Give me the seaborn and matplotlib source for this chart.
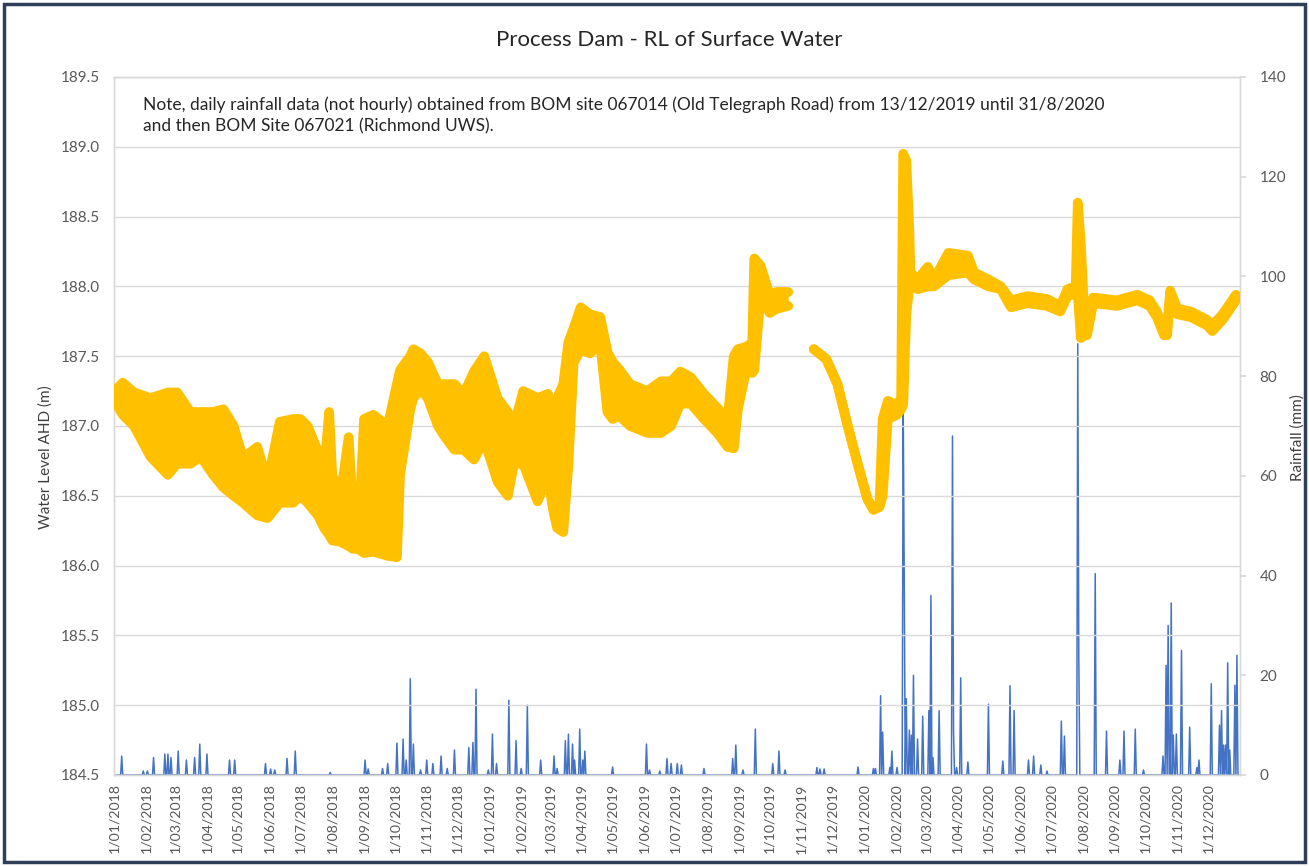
import numpy as np
import pandas as pd
import matplotlib
matplotlib.use("Agg")
import matplotlib.pyplot as plt
from matplotlib.patches import Rectangle
from matplotlib.ticker import FormatStrFormatter
import seaborn as sns

# ---------------- data ----------------
# Water level envelope (low / high of the daily oscillation), m AHD
level_dates = [
    "2018-01-01", "2018-01-09", "2018-01-20", "2018-02-05", "2018-02-22", "2018-03-03",
    "2018-03-16", "2018-03-26", "2018-04-07", "2018-04-17", "2018-04-27", "2018-05-06",
    "2018-05-20", "2018-05-30", "2018-06-11", "2018-06-24", "2018-07-01", "2018-07-08",
    "2018-07-18", "2018-07-24", "2018-07-29", "2018-08-01", "2018-08-09", "2018-08-17",
    "2018-08-21", "2018-08-26", "2018-09-01", "2018-09-10", "2018-09-24", "2018-10-03",
    "2018-10-06", "2018-10-16", "2018-10-19", "2018-10-26", "2018-11-02", "2018-11-12",
    "2018-11-18", "2018-11-28", "2018-12-07", "2018-12-17", "2018-12-27", "2019-01-09",
    "2019-01-19", "2019-01-25", "2019-02-03", "2019-02-17", "2019-02-27", "2019-03-04",
    "2019-03-08", "2019-03-14", "2019-03-19", "2019-03-24", "2019-03-31", "2019-04-09",
    "2019-04-19", "2019-04-26", "2019-05-01", "2019-05-08", "2019-05-18", "2019-06-04",
    "2019-06-17", "2019-06-27", "2019-07-06", "2019-07-16", "2019-07-29", "2019-08-11",
    "2019-08-21", "2019-08-27", "2019-08-31", "2019-09-09", "2019-09-14", "2019-09-16",
    "2019-09-22", "2019-10-01", "2019-10-08", "2019-10-19",
    "2019-11-13", "2019-11-25", "2019-12-06", "2019-12-16", "2019-12-26", "2020-01-04",
    "2020-01-10", "2020-01-16", "2020-01-19", "2020-01-24", "2020-02-02", "2020-02-06",
    "2020-02-08", "2020-02-11", "2020-02-14", "2020-02-15", "2020-02-22", "2020-03-03",
    "2020-03-09", "2020-03-23", "2020-04-11", "2020-04-17", "2020-05-01", "2020-05-13",
    "2020-05-23", "2020-06-08", "2020-06-27", "2020-07-10", "2020-07-17", "2020-07-25",
    "2020-07-27", "2020-07-30", "2020-08-03", "2020-08-05", "2020-08-11", "2020-09-03",
    "2020-09-23", "2020-10-05", "2020-10-12", "2020-10-19", "2020-10-22", "2020-10-25",
    "2020-11-01", "2020-11-14", "2020-11-30", "2020-12-05", "2020-12-15", "2020-12-28",
]
level_low = [
    187.18, 187.08, 187.00, 186.78, 186.65, 186.73,
    186.73, 186.78, 186.65, 186.56, 186.50, 186.45,
    186.36, 186.34, 186.45, 186.45, 186.50, 186.45,
    186.36, 186.27, 186.22, 186.18, 186.17, 186.14,
    186.12, 186.12, 186.09, 186.10, 186.07, 186.06,
    186.65, 187.12, 187.20, 187.26, 187.20, 187.00,
    186.93, 186.83, 186.83, 186.76, 186.90, 186.60,
    186.50, 186.73, 186.73, 186.46, 186.64, 186.40,
    186.27, 186.24, 186.73, 187.45, 187.55, 187.52,
    187.59, 187.10, 187.05, 187.07, 187.00, 186.95,
    186.95, 187.00, 187.16, 187.16, 187.05, 186.95,
    186.85, 186.84, 187.12, 187.43, 187.38, 187.40,
    187.93, 187.81, 187.84, 187.86,
    187.55, 187.48, 187.30, 187.00, 186.72, 186.48,
    186.40, 186.42, 186.50, 187.05, 187.08, 187.12,
    187.15, 187.80, 188.00, 188.02, 187.98, 188.00,
    188.00, 188.08, 188.10, 188.05, 188.00, 187.98,
    187.85, 187.88, 187.86, 187.82, 187.93, 187.95,
    187.95, 187.63, 187.65, 187.65, 187.88, 187.86,
    187.90, 187.86, 187.78, 187.65, 187.65, 187.93,
    187.80, 187.78, 187.72, 187.68, 187.76, 187.90,
]
level_high = [
    187.25, 187.31, 187.24, 187.20, 187.24, 187.24,
    187.10, 187.10, 187.10, 187.12, 187.00, 186.77,
    186.85, 186.60, 187.03, 187.05, 187.05, 187.00,
    186.82, 186.67, 187.10, 186.65, 186.49, 186.92,
    186.40, 186.15, 187.05, 187.08, 187.00, 187.30,
    187.40, 187.50, 187.55, 187.52, 187.46, 187.30,
    187.30, 187.30, 187.23, 187.39, 187.50, 187.20,
    187.10, 187.00, 187.25, 187.20, 187.23, 187.08,
    187.20, 187.30, 187.60, 187.70, 187.85, 187.80,
    187.78, 187.53, 187.46, 187.40, 187.30, 187.25,
    187.32, 187.32, 187.39, 187.35, 187.23, 187.13,
    187.05, 187.50, 187.55, 187.57, 187.60, 188.20,
    188.15, 187.94, 187.96, 187.96,
    187.55, 187.48, 187.30, 187.00, 186.72, 186.48,
    186.40, 186.45, 187.05, 187.18, 187.15, 187.20,
    188.95, 188.90, 188.40, 188.10, 188.05, 188.14,
    188.05, 188.24, 188.22, 188.10, 188.05, 188.00,
    187.90, 187.93, 187.91, 187.86, 187.98, 188.00,
    188.60, 188.30, 187.70, 187.68, 187.92, 187.90,
    187.94, 187.90, 187.82, 187.68, 187.70, 187.97,
    187.84, 187.82, 187.76, 187.72, 187.80, 187.94,
]
# logger record before / after the data gap of Oct-Nov 2019
level_segment = [0] * 76 + [1] * 48

# Daily rainfall (mm); days not listed had no rain
rain_dates = [
    "2018-01-08", "2018-01-29", "2018-02-02", "2018-02-08", "2018-02-19", "2018-02-22",
    "2018-02-25", "2018-03-04", "2018-03-12", "2018-03-20", "2018-03-25", "2018-04-01",
    "2018-04-23", "2018-04-28", "2018-05-28", "2018-06-02", "2018-06-06", "2018-06-18",
    "2018-06-26", "2018-07-30", "2018-09-02", "2018-09-05", "2018-09-19", "2018-09-24",
    "2018-10-03", "2018-10-09", "2018-10-12", "2018-10-16", "2018-10-19", "2018-10-26",
    "2018-11-01", "2018-11-07", "2018-11-15", "2018-11-21", "2018-11-28", "2018-12-12",
    "2018-12-16", "2018-12-19", "2018-12-31", "2019-01-04", "2019-01-08", "2019-01-20",
    "2019-01-27", "2019-02-01", "2019-02-07", "2019-02-20", "2019-03-05", "2019-03-08",
    "2019-03-16", "2019-03-19", "2019-03-23", "2019-03-25", "2019-03-30", "2019-04-02",
    "2019-04-04", "2019-05-01", "2019-06-03", "2019-06-06", "2019-06-16", "2019-06-23",
    "2019-06-27", "2019-07-03", "2019-07-07", "2019-07-29", "2019-08-26", "2019-08-29",
    "2019-09-05", "2019-09-17", "2019-10-04", "2019-10-10", "2019-10-16", "2019-11-16",
    "2019-11-19", "2019-11-23", "2019-12-26", "2020-01-10", "2020-01-12", "2020-01-17",
    "2020-01-19", "2020-01-26", "2020-01-28", "2020-02-02", "2020-02-08", "2020-02-09",
    "2020-02-11", "2020-02-14", "2020-02-16", "2020-02-18", "2020-02-22", "2020-02-27",
    "2020-03-04", "2020-03-06", "2020-03-08", "2020-03-14", "2020-03-27", "2020-03-28",
    "2020-03-31", "2020-04-04", "2020-04-11", "2020-05-01", "2020-05-15", "2020-05-22",
    "2020-05-26", "2020-06-09", "2020-06-14", "2020-06-21", "2020-06-27", "2020-07-11",
    "2020-07-14", "2020-07-27", "2020-07-28", "2020-08-13", "2020-08-24", "2020-09-06",
    "2020-09-10", "2020-09-21", "2020-09-29", "2020-10-18", "2020-10-21", "2020-10-23",
    "2020-10-26", "2020-10-28", "2020-10-31", "2020-11-05", "2020-11-13", "2020-11-20",
    "2020-11-22", "2020-12-04", "2020-12-12", "2020-12-14", "2020-12-16", "2020-12-18",
    "2020-12-20", "2020-12-22", "2020-12-27", "2020-12-29",
]
rain_mm = [
    3.8, 0.8, 0.8, 3.5, 4.2, 4.2,
    3.5, 4.8, 3.0, 3.5, 6.2, 4.2,
    3.0, 3.0, 2.3, 1.2, 1.0, 3.3,
    4.8, 0.5, 3.0, 1.2, 1.3, 2.3,
    6.4, 7.2, 3.0, 19.3, 6.2, 1.0,
    3.0, 2.3, 3.8, 1.3, 5.0, 5.5,
    6.5, 17.2, 1.0, 8.2, 2.3, 15.0,
    6.9, 1.3, 14.0, 3.0, 3.8, 1.3,
    6.9, 8.2, 6.2, 3.0, 9.2, 3.0,
    4.8, 1.6, 6.2, 1.0, 0.8, 3.3,
    2.3, 2.3, 2.0, 1.3, 3.3, 6.0,
    1.0, 9.2, 2.3, 4.8, 1.0, 1.5,
    1.2, 1.2, 1.6, 1.3, 1.3, 15.9,
    8.6, 1.5, 4.8, 1.5, 74.0, 40.0,
    15.3, 9.0, 8.0, 20.0, 7.2, 11.8,
    12.9, 36.0, 3.5, 12.9, 68.0, 9.0,
    1.5, 19.5, 2.6, 14.2, 2.8, 17.9,
    12.9, 3.0, 3.8, 2.0, 0.8, 10.8,
    7.8, 86.5, 23.6, 40.4, 8.8, 3.0,
    8.8, 9.2, 1.0, 3.8, 22.0, 30.0,
    34.5, 8.0, 8.2, 25.0, 9.6, 1.5,
    3.0, 18.3, 10.0, 12.9, 6.0, 6.0,
    22.5, 5.0, 18.0, 24.0,
]

tick_dates = pd.date_range("2018-01-01", "2020-12-01", freq="MS")
tick_labels = [f"1/{d.month:02d}/{d.year}" for d in tick_dates]

title = "Process Dam - RL of Surface Water"
note = ("Note, daily rainfall data (not hourly) obtained from BOM site 067014 (Old Telegraph Road) "
        "from 13/12/2019 until 31/8/2020\nand then BOM Site 067021 (Richmond UWS).")

# ---------------- styling ----------------
sns.set_theme(style="white")
plt.rcParams["font.family"] = ["Lato", "DejaVu Sans"]

ORANGE = "#FFC000"
BLUE = "#4472C4"
GRID = "#D9D9D9"
TXT = "#595959"

fig = plt.figure(figsize=(13.09, 8.66), dpi=100)
ax = fig.add_axes([0.0871, 0.1051, 0.8602, 0.806])
ax2 = ax.twinx()

# rainfall on secondary axis (behind the level line)
rain = pd.Series(rain_mm, index=pd.to_datetime(rain_dates)).groupby(level=0).sum()
days = pd.date_range("2018-01-01", "2020-12-31", freq="D")
rain_df = pd.DataFrame({"date": days, "mm": rain.reindex(days, fill_value=0.0).values})
sns.lineplot(data=rain_df, x="date", y="mm", ax=ax2, color=BLUE, linewidth=1.1)

# water level band
lvl = pd.DataFrame({"date": pd.to_datetime(level_dates), "low": level_low,
                    "high": level_high, "seg": level_segment})
for seg, g in lvl.groupby("seg"):
    ax.fill_between(g["date"], g["low"], g["high"], color=ORANGE, linewidth=0, zorder=3)
for col in ["low", "high"]:
    sns.lineplot(data=lvl, x="date", y=col, units="seg", estimator=None, ax=ax,
                 color=ORANGE, linewidth=7, solid_capstyle="round",
                 solid_joinstyle="round", zorder=4)

ax.set_zorder(ax2.get_zorder() + 1)
ax.patch.set_visible(False)

# axes limits / ticks
ax.set_ylim(184.5, 189.5)
ax.set_yticks(np.arange(184.5, 189.51, 0.5))
ax.yaxis.set_major_formatter(FormatStrFormatter("%.1f"))
ax2.set_ylim(0, 140)
ax2.set_yticks(range(0, 141, 20))
ax.set_xlim(pd.Timestamp("2017-12-31 12:00"), pd.Timestamp("2021-01-01"))
ax.set_xticks(tick_dates)
ax.set_xticklabels(tick_labels, rotation=90)

ax.grid(axis="y", color=GRID, linewidth=1)
ax.grid(axis="x", visible=False)
ax2.grid(False)

for a in (ax, ax2):
    for s in a.spines.values():
        s.set_color(GRID)
        s.set_linewidth(1)

ax.tick_params(axis="y", length=0, labelsize=11, labelcolor=TXT, pad=10)
ax.tick_params(axis="x", length=0, labelsize=10.2, labelcolor=TXT, pad=6)
ax2.tick_params(axis="y", length=4, color=GRID, labelsize=11, labelcolor=TXT, pad=10)

ax.set_xlabel("")
ax2.set_xlabel("")
ax.set_ylabel("Water Level AHD (m)", fontsize=11, color="#404040")
ax.yaxis.set_label_coords(-0.054, 0.456)
ax2.set_ylabel("Rainfall (mm)", fontsize=11, color="#404040")
ax2.yaxis.set_label_coords(1.045, 0.484)

fig.text(0.511, 0.954, title, ha="center", va="center", fontsize=16, color="#262626")
fig.text(0.1092, 0.8667, note, ha="left", va="center", fontsize=12.5, color="#262626",
         linespacing=1.45)

fig.add_artist(Rectangle((4 / 1309, 4 / 866), 1301 / 1309, 858 / 866,
                         transform=fig.transFigure, fill=False,
                         edgecolor="#2F3F57", linewidth=2.5))

fig.savefig("out.png", dpi=100)
